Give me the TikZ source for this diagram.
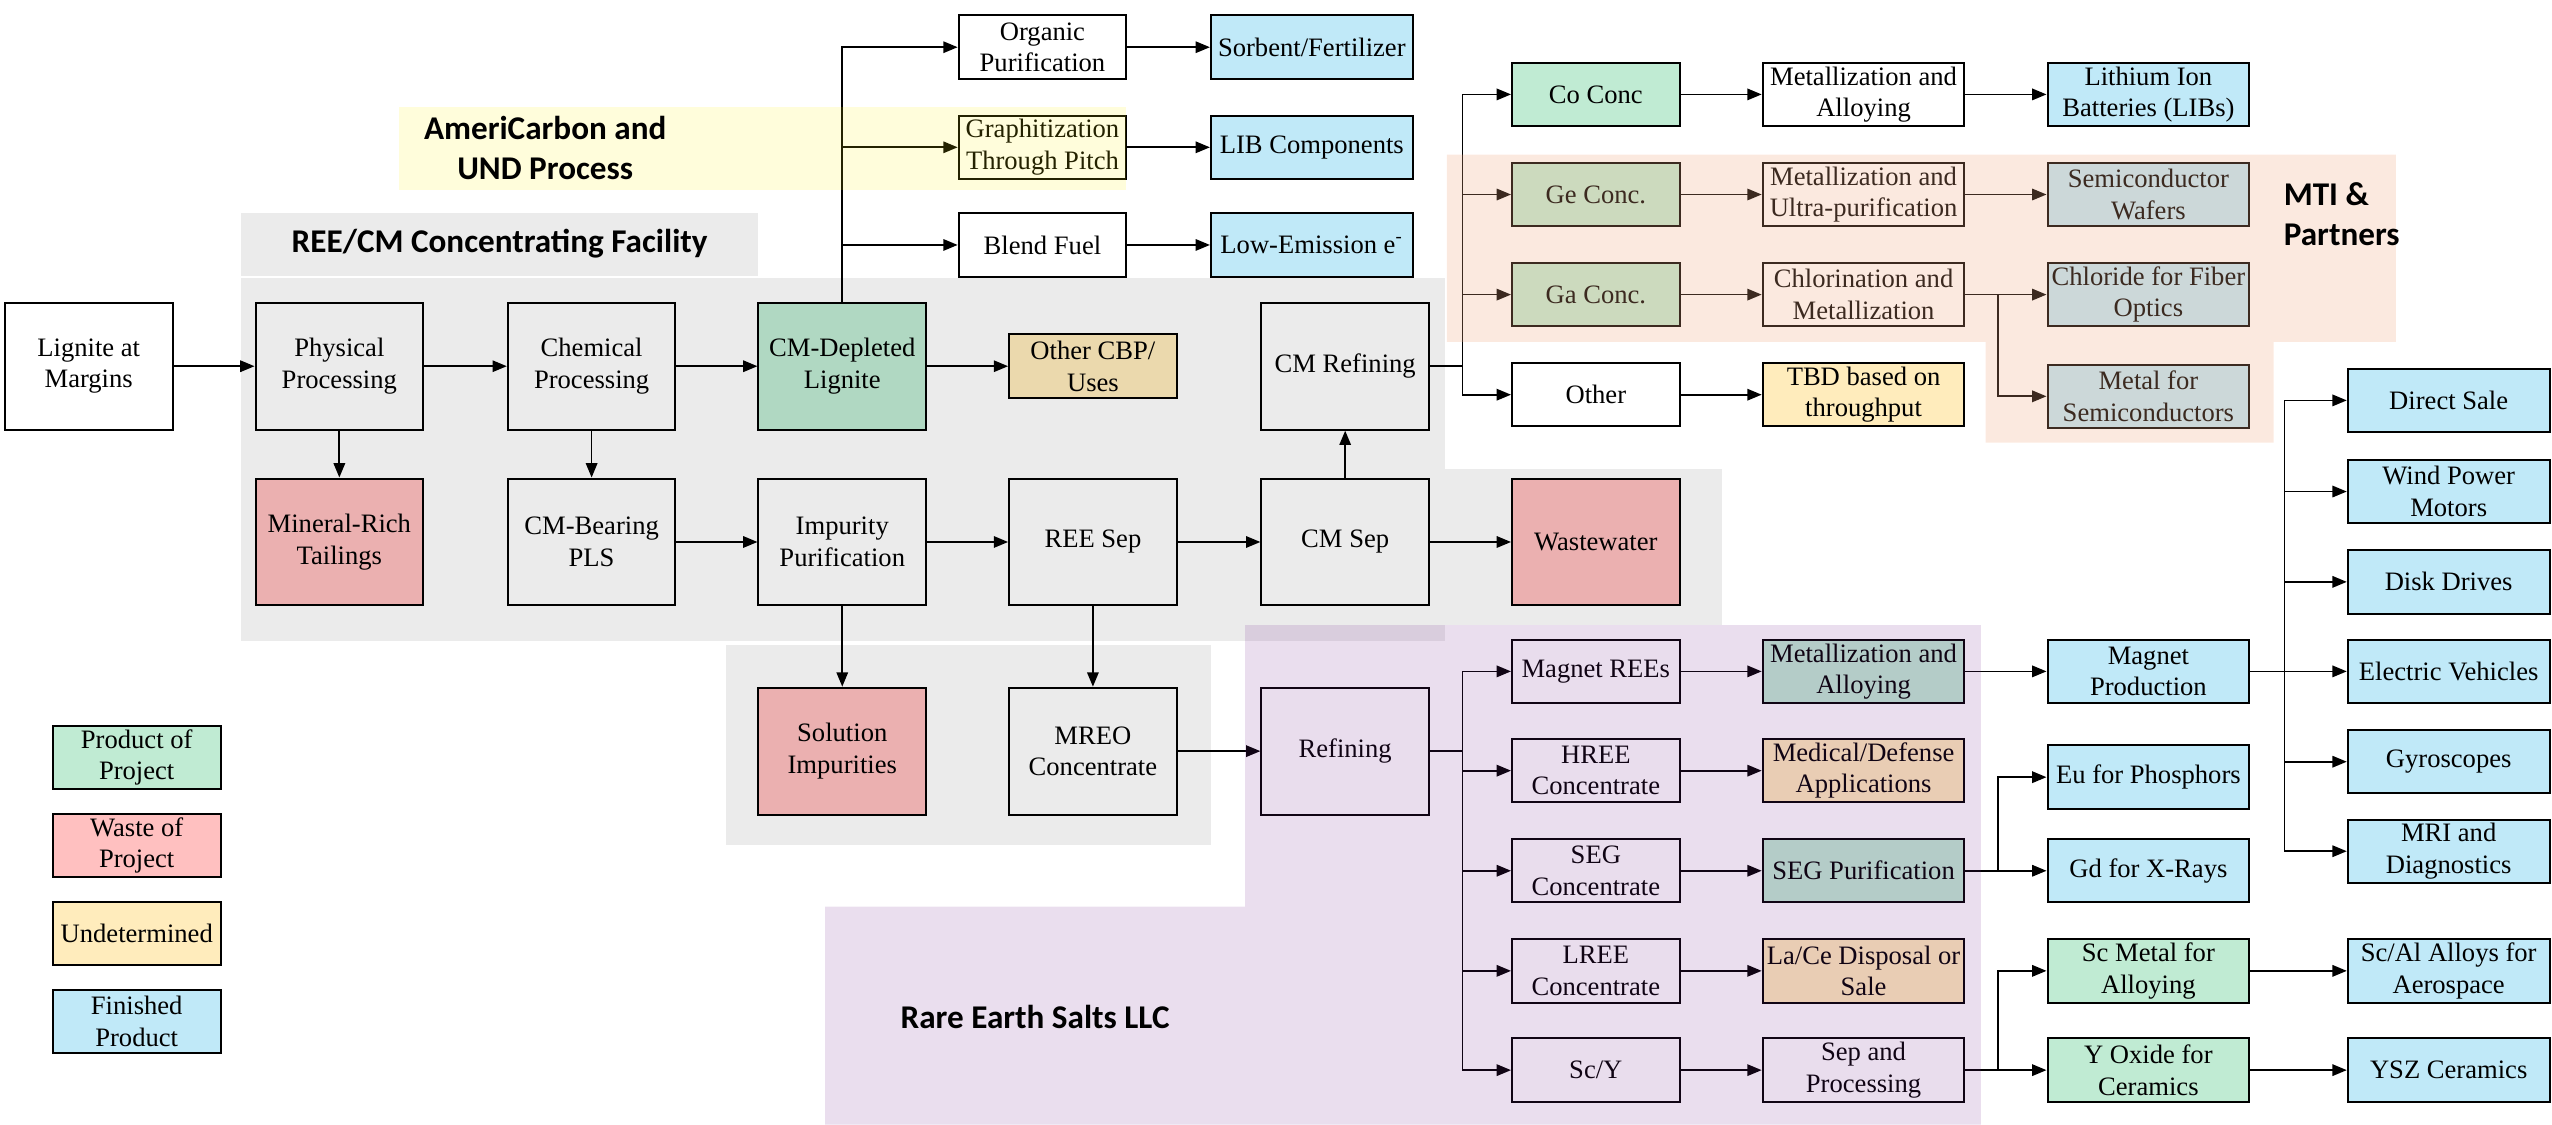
\documentclass[tikz,border=0pt]{standalone}
\usepackage{fontspec}
\setmainfont{Liberation Serif}
\newfontfamily\grpfont{Carlito}
\usetikzlibrary{arrows.meta}
\tikzset{>={Triangle[width=4pt,length=5pt]}}
\definecolor{prodc}{RGB}{192,235,211}
\definecolor{wastec}{RGB}{255,192,192}
\definecolor{undetc}{RGB}{255,236,188}
\definecolor{finc}{RGB}{192,233,248}
\definecolor{orangec}{RGB}{240,168,128}
\definecolor{purplec}{RGB}{113,33,140}
\tikzset{
  blk/.style={draw, line width=0.7pt, fill=white, minimum width=2.06cm, minimum height=0.78cm,
    inner sep=1pt, align=center, font=\fontsize{9.3}{11}\selectfont},
  wblk/.style={blk, minimum width=2.48cm},
  tall/.style={minimum height=1.56cm},
  prod/.style={fill=prodc},
  waste/.style={fill=wastec},
  undet/.style={fill=undetc},
  fin/.style={fill=finc},
  grp/.style={font=\grpfont\bfseries\fontsize{11.6}{14}\selectfont, align=center},
  link/.style={->, line width=0.6pt},
}

\begin{document}
\begin{tikzpicture}[x=0.02cm, y=-0.02cm]
  \useasboundingbox (0,0) rectangle (1568,691);

  % main line
  \node[blk, tall] (lignite) at (54.5,225) {Lignite at\\Margins};
  \node[blk, tall] (phys) at (208.5,225) {Physical\\Processing};
  \node[blk, tall] (chem) at (363.5,225) {Chemical\\Processing};
  \node[blk, tall, prod] (cmdep) at (517.5,225) {CM-Depleted\\Lignite};
  \node[blk, undet] (othercbp) at (671.5,225) {Other CBP/\\Uses};
  \node[blk, tall] (cmref) at (826.5,225) {CM Refining};

  \node[blk, tall, waste] (tailings) at (208.5,333) {Mineral-Rich\\Tailings};
  \node[blk, tall] (pls) at (363.5,333) {CM-Bearing\\PLS};
  \node[blk, tall] (impur) at (517.5,333) {Impurity\\Purification};
  \node[blk, tall] (reesep) at (671.5,333) {REE Sep};
  \node[blk, tall] (cmsep) at (826.5,333) {CM Sep};
  \node[blk, tall, waste] (wastew) at (980.5,333) {Wastewater};

  \node[blk, tall, waste] (solimp) at (517.5,461.5) {Solution\\Impurities};
  \node[blk, tall] (mreo) at (671.5,461.5) {MREO\\Concentrate};
  \node[blk, tall] (refin) at (826.5,461.5) {Refining};

  % carbon products
  \node[blk] (organic) at (640.5,29) {Organic\\Purification};
  \node[blk] (graph) at (640.5,90.5) {Graphitization\\Through Pitch};
  \node[blk] (blend) at (640.5,150.5) {Blend Fuel};
  \node[wblk, fin] (sorbent) at (806,29) {Sorbent/Fertilizer};
  \node[wblk, fin] (libcomp) at (806,90.5) {LIB Components};
  \node[wblk, fin] (lowem) at (806,150.5) {Low-Emission e\textsuperscript{-}};

  % CM products
  \node[blk, prod] (coconc) at (980.5,58) {Co Conc};
  \node[blk, prod] (geconc) at (980.5,119.5) {Ge Conc.};
  \node[blk, prod] (gaconc) at (980.5,181) {Ga Conc.};
  \node[blk] (other) at (980.5,242.5) {Other};
  \node[wblk] (metco) at (1145,58) {Metallization and\\Alloying};
  \node[wblk] (metge) at (1145,119.5) {Metallization and\\Ultra-purification};
  \node[wblk] (chlor) at (1145,181) {Chlorination and\\Metallization};
  \node[wblk, undet] (tbd) at (1145,242.5) {TBD based on\\throughput};
  \node[wblk, fin] (libs) at (1320,58) {Lithium Ion\\Batteries (LIBs)};
  \node[wblk, fin] (wafers) at (1320,119.5) {Semiconductor\\Wafers};
  \node[wblk, fin] (fiber) at (1320,181) {Chloride for Fiber\\Optics};
  \node[wblk, fin] (metsemi) at (1320,243.5) {Metal for\\Semiconductors};

  % REE products
  \node[blk] (magree) at (980.5,412.5) {Magnet REEs};
  \node[blk] (hree) at (980.5,473.5) {HREE\\Concentrate};
  \node[blk] (seg) at (980.5,535) {SEG\\Concentrate};
  \node[blk] (lree) at (980.5,596.5) {LREE\\Concentrate};
  \node[blk] (scy) at (980.5,657.5) {Sc/Y};
  \node[wblk, prod] (metmag) at (1145,412.5) {Metallization and\\Alloying};
  \node[wblk, undet] (medic) at (1145,473.5) {Medical/Defense\\Applications};
  \node[wblk, prod] (segpur) at (1145,535) {SEG Purification};
  \node[wblk, undet] (lace) at (1145,596.5) {La/Ce Disposal or\\Sale};
  \node[wblk] (sepproc) at (1145,657.5) {Sep and\\Processing};
  \node[wblk, fin] (magprod) at (1320,412.5) {Magnet\\Production};
  \node[wblk, fin] (eu) at (1320,477.5) {Eu for Phosphors};
  \node[wblk, fin] (gd) at (1320,535) {Gd for X-Rays};
  \node[wblk, prod] (scmet) at (1320,596.5) {Sc Metal for\\Alloying};
  \node[wblk, prod] (yox) at (1320,657.5) {Y Oxide for\\Ceramics};

  \node[wblk, fin] (direct) at (1504.5,246) {Direct Sale};
  \node[wblk, fin] (wind) at (1504.5,302) {Wind Power\\Motors};
  \node[wblk, fin] (disk) at (1504.5,357.5) {Disk Drives};
  \node[wblk, fin] (ev) at (1504.5,412.5) {Electric Vehicles};
  \node[wblk, fin] (gyro) at (1504.5,468) {Gyroscopes};
  \node[wblk, fin] (mri) at (1504.5,523) {MRI and\\Diagnostics};
  \node[wblk, fin] (scal) at (1504.5,596.5) {Sc/Al Alloys for\\Aerospace};
  \node[wblk, fin] (ysz) at (1504.5,657.5) {YSZ Ceramics};

  % legend
  \node[blk, prod] (lgprod) at (84,465.5) {Product of\\Project};
  \node[blk, waste] (lgwaste) at (84,519.5) {Waste of\\Project};
  \node[blk, undet] (lgundet) at (84,573.5) {Undetermined};
  \node[blk, fin] (lgfin) at (84,627.5) {Finished\\Product};

  % arrows
  \draw[link] (lignite) -- (phys);
  \draw[link] (phys) -- (chem);
  \draw[link] (chem) -- (cmdep);
  \draw[link] (cmdep) -- (othercbp);
  \draw[link] (cmdep.north) |- (organic.west);
  \draw[link] (cmdep.north) |- (graph.west);
  \draw[link] (cmdep.north) |- (blend.west);
  \draw[link] (organic) -- (sorbent);
  \draw[link] (graph) -- (libcomp);
  \draw[link] (blend) -- (lowem);

  \draw[link] (phys) -- (tailings); % phys->tailings
  \draw[link] (chem) -- (pls); % chem->PLS
  \draw[link] (pls) -- (impur);
  \draw[link] (impur) -- (reesep);
  \draw[link] (reesep) -- (cmsep);
  \draw[link] (cmsep) -- (wastew);
  \draw[link] (cmsep) -- (cmref); % CM Sep->CM Refining
  \draw[link] (impur) -- (solimp);
  \draw[link] (reesep) -- (mreo);
  \draw[link] (mreo) -- (refin);

  \draw[link] (cmref.east) -- +(20,0) |- (coconc.west);
  \draw[link] (cmref.east) -- +(20,0) |- (geconc.west);
  \draw[link] (cmref.east) -- +(20,0) |- (gaconc.west);
  \draw[link] (cmref.east) -- +(20,0) |- (other.west);
  \draw[link] (coconc) -- (metco);
  \draw[link] (geconc) -- (metge);
  \draw[link] (gaconc) -- (chlor);
  \draw[link] (other) -- (tbd);
  \draw[link] (metco) -- (libs);
  \draw[link] (metge) -- (wafers);
  \draw[link] (chlor) -- (fiber);
  \draw[link] (chlor.east) -- +(20,0) |- (metsemi.west);

  \draw[link] (refin.east) -- +(20,0) |- (magree.west);
  \draw[link] (refin.east) -- +(20,0) |- (hree.west);
  \draw[link] (refin.east) -- +(20,0) |- (seg.west);
  \draw[link] (refin.east) -- +(20,0) |- (lree.west);
  \draw[link] (refin.east) -- +(20,0) |- (scy.west);
  \draw[link] (magree) -- (metmag);
  \draw[link] (hree) -- (medic);
  \draw[link] (seg) -- (segpur);
  \draw[link] (lree) -- (lace);
  \draw[link] (scy) -- (sepproc);
  \draw[link] (metmag) -- (magprod);
  \draw[link] (segpur.east) -- +(20,0) |- (eu.west);
  \draw[link] (segpur) -- (gd);
  \draw[link] (sepproc.east) -- +(20,0) |- (scmet.west);
  \draw[link] (sepproc) -- (yox);
  \draw[link] (scmet) -- (scal);
  \draw[link] (yox) -- (ysz);

  \draw[link] (magprod.east) -- +(21,0) |- (direct.west);
  \draw[link] (magprod.east) -- +(21,0) |- (wind.west);
  \draw[link] (magprod.east) -- +(21,0) |- (disk.west);
  \draw[link] (magprod) -- (ev);
  \draw[link] (magprod.east) -- +(21,0) |- (gyro.west);
  \draw[link] (magprod.east) -- +(21,0) |- (mri.west);

  % shaded groups, laid over the boxes
  \fill[black, fill opacity=0.08] (148,131) rectangle (466,169.5);
  \fill[black, fill opacity=0.08] (148,170.5) rectangle (888,394);
  \fill[black, fill opacity=0.08] (888,288) rectangle (1058,384);
  \fill[black, fill opacity=0.08] (446,396) rectangle (744,519);
  \fill[yellow, fill opacity=0.14] (245,66) rectangle (692,117);
  \fill[orangec, fill opacity=0.25] (889,95) -- (1472,95) -- (1472,210) -- (1397,210)
    -- (1397,272) -- (1220,272) -- (1220,210) -- (889,210) -- cycle;
  \fill[purplec, fill opacity=0.15] (765,384) -- (1217,384) -- (1217,691) -- (507,691)
    -- (507,557) -- (765,557) -- cycle;

  \node[grp] (gfacility) at (307,150) {REE/CM Concentrating Facility};
  \node[grp] (gamericarbon) at (335,91) {AmeriCarbon and\\UND Process};
  \node[grp, anchor=west, align=left] (gmti) at (1397,131.5) {MTI \&\\Partners};
  \node[grp] (gres) at (636,625) {Rare Earth Salts LLC};
\end{tikzpicture}
\end{document}
